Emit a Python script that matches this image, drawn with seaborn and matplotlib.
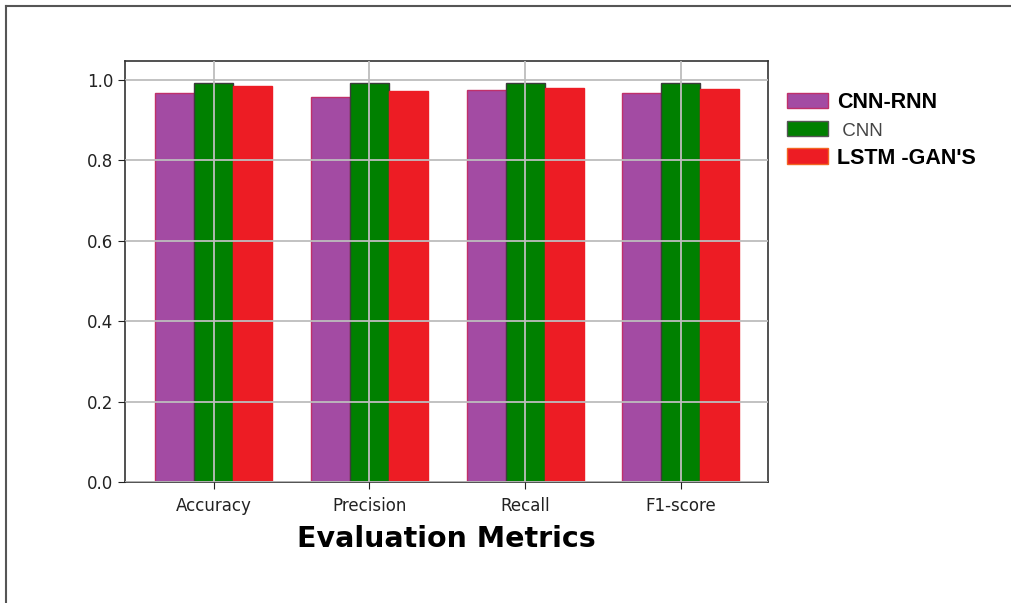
import matplotlib.pyplot as plt
import matplotlib.patches as mpatches
from matplotlib.lines import Line2D
import pandas as pd
import seaborn as sns

metrics = ['Accuracy', 'Precision', 'Recall', 'F1-score']
models = ['CNN-RNN', 'CNN', "LSTM -GAN'S"]
cnn_rnn = [0.967, 0.958, 0.974, 0.967]
cnn = [0.992, 0.992, 0.992, 0.992]
lstm_gan = [0.986, 0.972, 0.981, 0.978]
yticks = [0.0, 0.2, 0.4, 0.6, 0.8, 1.0]

colors = ['#A34BA3', '#008000', '#ED1C24']
edges = ['#C0306A', '#3C3C3C', '#ED1C24']

df = pd.DataFrame({
    'metric': metrics * 3,
    'model': [m for m in models for _ in metrics],
    'score': cnn_rnn + cnn + lstm_gan,
})

fig = plt.figure(figsize=(10.11, 6.03), dpi=100)
ax = fig.add_axes([125 / 1011, 1 - 482 / 603, (768 - 125) / 1011, (482 - 61) / 603])

sns.barplot(
    data=df,
    x='metric',
    y='score',
    hue='model',
    hue_order=models,
    palette=colors,
    width=0.75,
    saturation=1,
    legend=False,
    ax=ax
)

for cont, ec in zip(ax.containers, edges):
    for bar in cont:
        bar.set_edgecolor(ec)
        bar.set_linewidth(1)

ax.set_xlim(-0.57, 3.56)
ax.set_ylim(0, 1.047)
ax.set_yticks(yticks)
ax.set_yticklabels([f'{t:.1f}' for t in yticks])
ax.grid(True, color='#bdbdbd', lw=1.3)
ax.set_axisbelow(False)

for s in ax.spines.values():
    s.set_color('#333333')
    s.set_linewidth(1.2)
ax.tick_params(axis='both', labelsize=12, colors='#222222', length=5)
ax.tick_params(axis='x', pad=6)

ax.set_ylabel('')
ax.set_xlabel('Evaluation Metrics', fontsize=20.5, fontweight='bold', labelpad=7)

# legend outside on the right
handles = [
    mpatches.Patch(facecolor=colors[0], edgecolor=edges[0]),
    mpatches.Patch(facecolor=colors[1], edgecolor='#555555'),
    mpatches.Patch(facecolor=colors[2], edgecolor='#F26522'),
]
leg = fig.legend(
    handles=handles,
    labels=models,
    loc='upper left',
    bbox_to_anchor=(768 / 1011, 1 - 73 / 603),
    frameon=False,
    prop={'family': 'Liberation Sans', 'size': 15.5, 'weight': 'bold'},
    handlelength=1.9,
    handletextpad=0.4,
    labelspacing=0.35
)
texts = leg.get_texts()
texts[1].set_fontweight('normal')
texts[1].set_fontsize(13.5)
texts[1].set_color('#444444')
texts[1].set_text(' CNN')

# frame lines of the picture
fig.add_artist(Line2D([6 / 1011, 1], [1 - 6 / 603, 1 - 6 / 603],
                      transform=fig.transFigure, color='#555555', lw=1.5))
fig.add_artist(Line2D([6 / 1011, 6 / 1011], [0, 1 - 6 / 603],
                      transform=fig.transFigure, color='#555555', lw=1.5))

plt.savefig('out.png', dpi=100)
